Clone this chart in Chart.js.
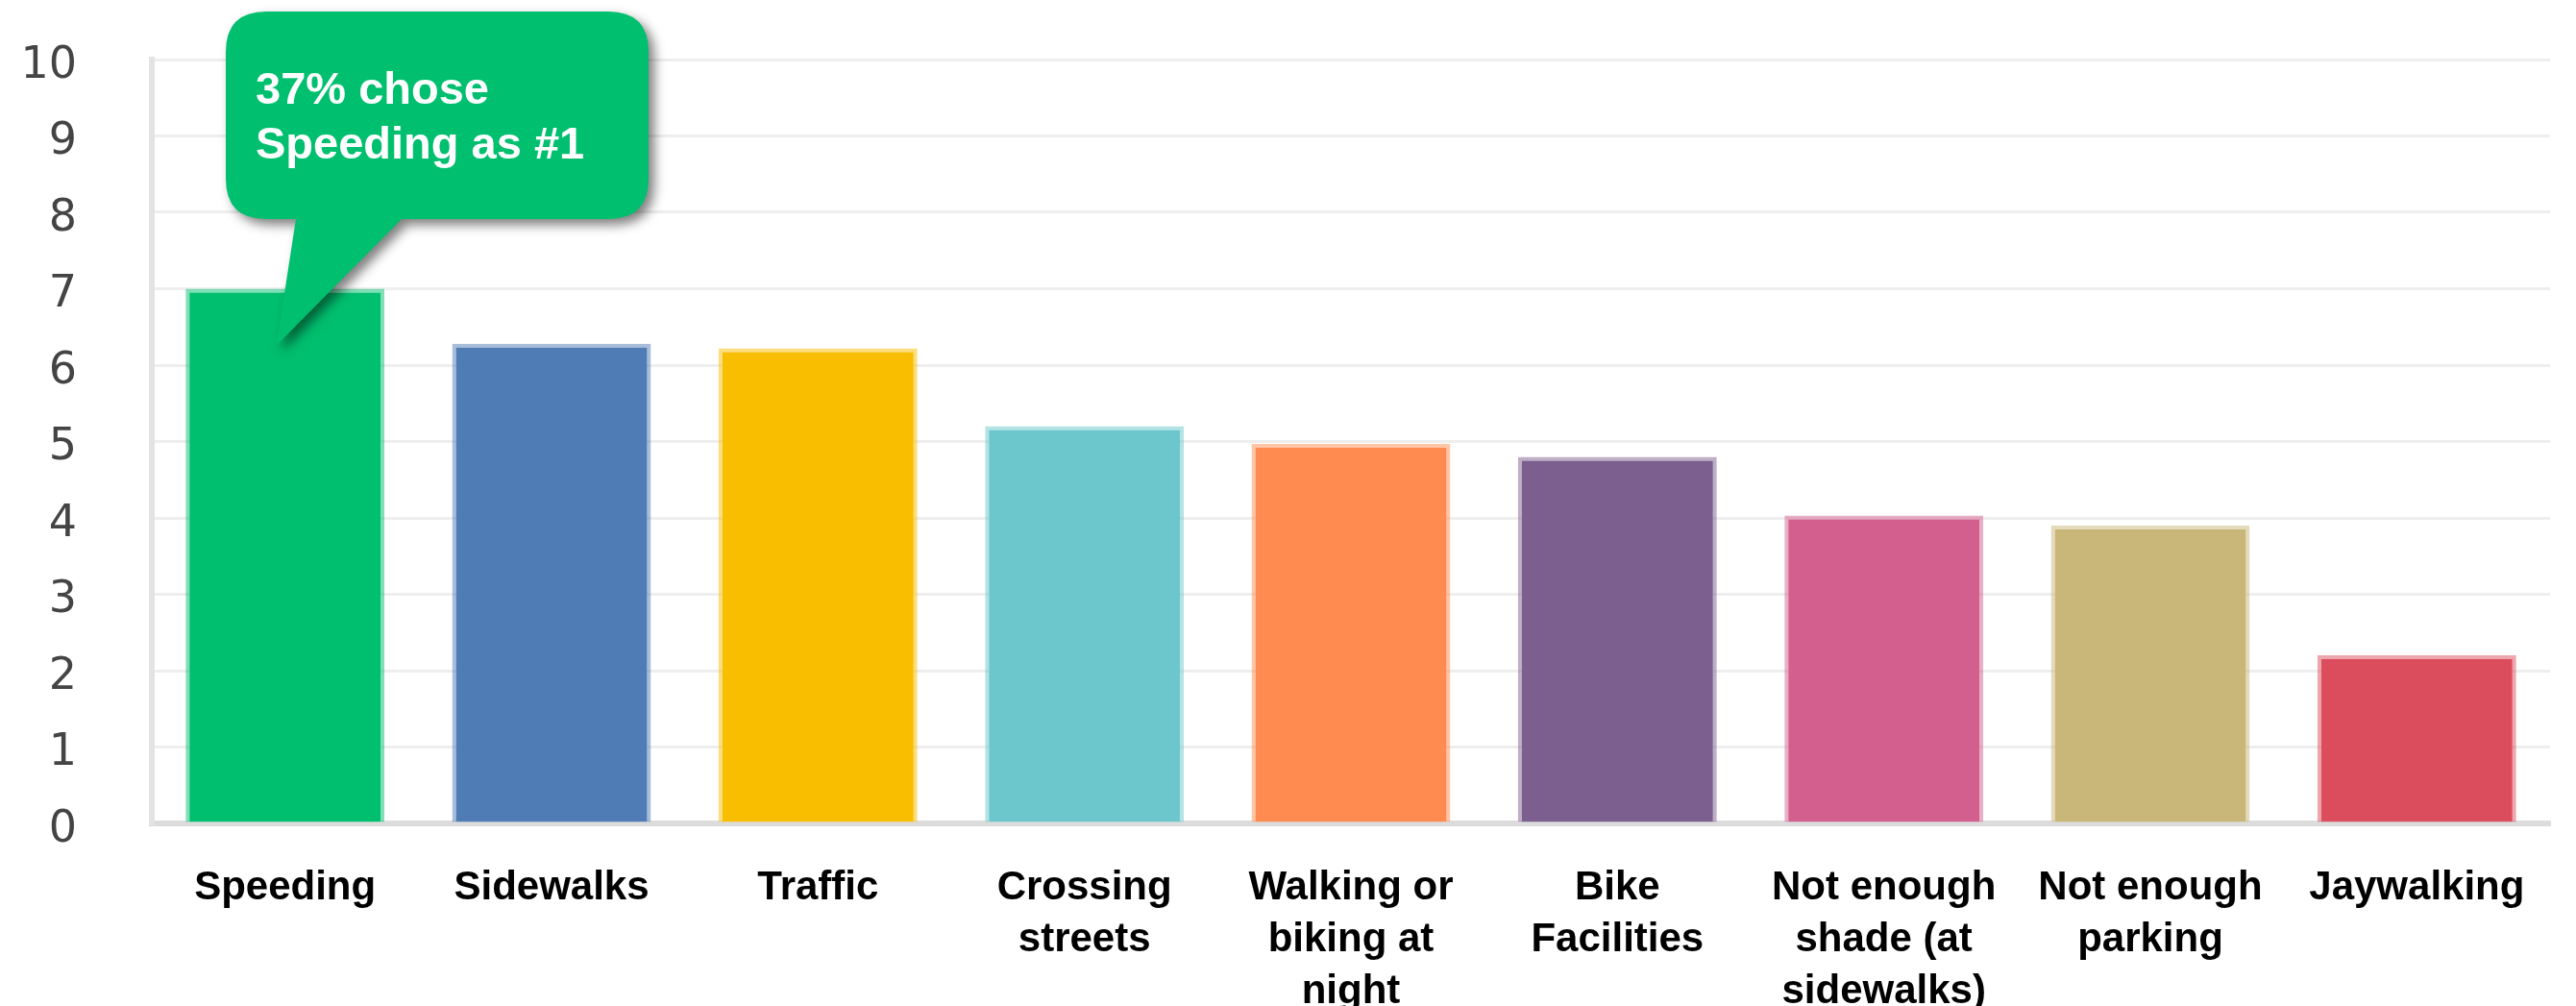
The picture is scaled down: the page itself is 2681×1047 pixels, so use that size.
<!DOCTYPE html>
<html>
<head>
<meta charset="utf-8">
<title>Top safety concerns</title>
<script src="https://cdn.jsdelivr.net/npm/chart.js@4.4.0/dist/chart.umd.min.js"></script>
<style>
    html, body { margin: 0; padding: 0; background: #ffffff; }
    canvas { display: block; }
</style>
</head>
<body>
<canvas id="concernsChart" width="2681" height="1047"></canvas>
<script>
// Categories (multi-line labels as shown under each bar)
const categories = [
    'Speeding',
    'Sidewalks',
    'Traffic',
    ['Crossing', 'streets'],
    ['Walking or', 'biking at', 'night'],
    ['Bike', 'Facilities'],
    ['Not enough', 'shade (at', 'sidewalks)'],
    ['Not enough', 'parking'],
    'Jaywalking'
];

// Average ranking score per concern
const scores = [7.0, 6.28, 6.22, 5.2, 4.97, 4.8, 4.03, 3.9, 2.2];

// One colour per bar
const barColors = [
    '#00BF6F', '#4F7CB5', '#F9BE00', '#6CC7CC', '#FF8B50',
    '#7D5F8F', '#D35F8F', '#C9B77A', '#DB4D5C'
];

const yTicks = [0, 1, 2, 3, 4, 5, 6, 7, 8, 9, 10];

const calloutLines = ['37% chose', 'Speeding as #1'];

// lighter edge for each bar, like the original
function withAlpha(hex, a) {
    const n = parseInt(hex.slice(1), 16);
    return `rgba(${(n >> 16) & 255}, ${(n >> 8) & 255}, ${n & 255}, ${a})`;
}

// Speech-bubble callout pointing into the first bar
const calloutPlugin = {
    id: 'callout',
    afterDatasetsDraw(chart) {
        const ctx = chart.ctx;
        const bar = chart.getDatasetMeta(0).data[0];
        const tipX = bar.x - 9;
        const tipY = bar.y + 59;

        const left = 235, top = 12, right = 675, bottom = 228, r = 42;
        const baseL = 308, baseR = 418;

        ctx.save();
        ctx.beginPath();
        ctx.moveTo(left + r, top);
        ctx.lineTo(right - r, top);
        ctx.quadraticCurveTo(right, top, right, top + r);
        ctx.lineTo(right, bottom - r);
        ctx.quadraticCurveTo(right, bottom, right - r, bottom);
        ctx.lineTo(baseR, bottom);
        ctx.lineTo(tipX, tipY);
        ctx.lineTo(baseL, bottom);
        ctx.lineTo(left + r, bottom);
        ctx.quadraticCurveTo(left, bottom, left, bottom - r);
        ctx.lineTo(left, top + r);
        ctx.quadraticCurveTo(left, top, left + r, top);
        ctx.closePath();

        ctx.shadowColor = 'rgba(0, 0, 0, 0.5)';
        ctx.shadowBlur = 12;
        ctx.shadowOffsetX = 6;
        ctx.shadowOffsetY = 6;
        ctx.fillStyle = '#00BF6F';
        ctx.fill();
        ctx.restore();

        ctx.save();
        ctx.fillStyle = '#ffffff';
        ctx.font = 'bold 47px "Liberation Sans", Arial, sans-serif';
        ctx.textAlign = 'left';
        ctx.textBaseline = 'alphabetic';
        ctx.fillText(calloutLines[0], 266, 108);
        ctx.fillText(calloutLines[1], 266, 165);
        ctx.restore();
    }
};

const ctx = document.getElementById('concernsChart').getContext('2d');

new Chart(ctx, {
    type: 'bar',
    data: {
        labels: categories,
        datasets: [{
            data: scores,
            backgroundColor: barColors,
            borderColor: barColors.map(c => withAlpha(c, 0.5)),
            borderWidth: 4,
            borderSkipped: 'start',
            categoryPercentage: 1.0,
            barPercentage: 0.746
        }]
    },
    options: {
        responsive: false,
        devicePixelRatio: 1,
        animation: false,
        layout: {
            padding: { top: 62, right: 27, bottom: 0, left: 0 }
        },
        plugins: {
            legend: { display: false },
            tooltip: { enabled: false }
        },
        scales: {
            x: {
                grid: { display: false, drawTicks: false },
                border: { display: true, color: '#DCDCDC', width: 6 },
                ticks: {
                    color: '#000000',
                    padding: 40,
                    maxRotation: 0,
                    autoSkip: false,
                    font: { family: '"Liberation Sans", Arial, sans-serif', size: 42, weight: 'bold', lineHeight: 1.29 }
                },
                afterFit(scale) {
                    scale.height = 190;
                    scale.paddingLeft = 0;
                    scale.paddingRight = 0;
                }
            },
            y: {
                min: 0,
                max: 10,
                afterBuildTicks(scale) { scale.ticks = yTicks.map(v => ({ value: v })); },
                grid: { color: '#EEEEEE', lineWidth: 3, drawTicks: false },
                border: { display: true, color: '#E3E3E3', width: 6 },
                ticks: {
                    color: '#444444',
                    padding: 78,
                    labelOffset: 7,
                    font: { family: '"DejaVu Sans", Verdana, sans-serif', size: 46 }
                },
                afterFit(scale) {
                    scale.width = 158;
                    scale.paddingTop = 0;
                    scale.paddingBottom = 0;
                }
            }
        }
    },
    plugins: [calloutPlugin]
});
</script>
</body>
</html>
